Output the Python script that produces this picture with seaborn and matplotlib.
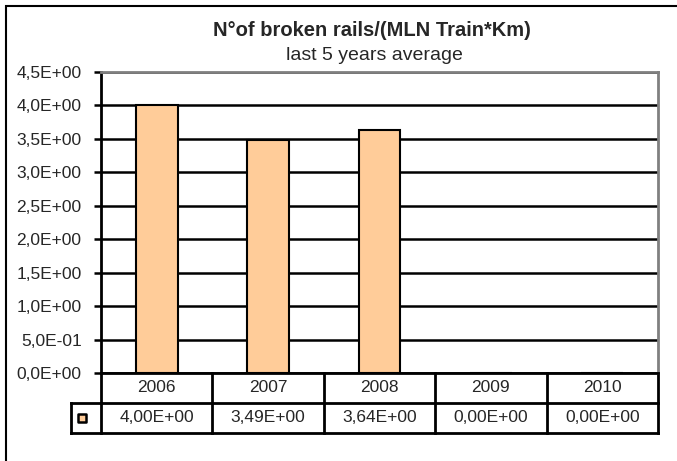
import numpy as np
import pandas as pd
import matplotlib
matplotlib.use("Agg")
import matplotlib.pyplot as plt
from matplotlib.patches import Rectangle
import seaborn as sns

YEARS = ["2006", "2007", "2008", "2009", "2010"]
VALUES = [4.00, 3.49, 3.64, 0.00, 0.00]
Y_TICKS = [0.0, 0.5, 1.0, 1.5, 2.0, 2.5, 3.0, 3.5, 4.0, 4.5]
TITLE = "N°of broken rails/(MLN Train*Km)"
SUBTITLE = "last 5 years average"

BAR_COLOR = "#FFCC99"
GRID_GRAY = "#808080"


def sci_comma(v, digits):
    return f"{v:.{digits}E}".replace(".", ",")


sns.set_style("white")
plt.rcParams["font.family"] = ["Liberation Sans", "DejaVu Sans"]

W, H = 677, 461
fig = plt.figure(figsize=(W / 100, H / 100), dpi=100)
ax = fig.add_axes([101 / W, 1 - 373 / H, (658 - 101) / W, (373 - 72) / H])

df = pd.DataFrame({"Year": YEARS, "Value": VALUES})
sns.barplot(data=df, x="Year", y="Value", color=BAR_COLOR, width=0.375,
            edgecolor="black", linewidth=1.5, saturation=1, ax=ax, zorder=3)

ax.set_ylim(0, 4.5)
ax.set_xlim(-0.5, len(YEARS) - 0.5)
ax.set_yticks(Y_TICKS)
ax.set_yticklabels([sci_comma(t, 1) for t in Y_TICKS], fontsize=12.5)
ax.set_xticks([])
ax.set_xlabel("")
ax.set_ylabel("")
ax.tick_params(axis="y", direction="out", length=5, width=1.8, color="black", pad=9, left=True)
ax.yaxis.grid(True, color="black", linewidth=1.8, zorder=0)
ax.set_axisbelow(True)

for side in ["top", "right"]:
    ax.spines[side].set_color(GRID_GRAY)
    ax.spines[side].set_linewidth(2)
for side in ["left", "bottom"]:
    ax.spines[side].set_color("black")
    ax.spines[side].set_linewidth(2)

# data table under the plot
row_h = 30 / (373 - 72)
key_w = 30 / (658 - 101) * len(YEARS)
tr = ax.get_xaxis_transform()
lk = dict(color="black", linewidth=2, transform=tr, clip_on=False, solid_capstyle="projecting")
n = len(YEARS)
ax.plot([-0.5, n - 0.5], [-row_h, -row_h], **lk)
ax.plot([-0.5 - key_w, n - 0.5], [-2 * row_h, -2 * row_h], **lk)
ax.plot([-0.5 - key_w, -0.5], [-row_h, -row_h], **lk)
ax.plot([-0.5 - key_w, -0.5 - key_w], [-row_h, -2 * row_h], **lk)
for i in range(n + 1):
    ax.plot([i - 0.5, i - 0.5], [0, -2 * row_h], **lk)
for i, (yr, v) in enumerate(zip(YEARS, VALUES)):
    ax.text(i, -0.5 * row_h, yr, transform=tr, ha="center", va="center", fontsize=12.5)
    ax.text(i, -1.5 * row_h, sci_comma(v, 2), transform=tr, ha="center", va="center", fontsize=12.5)

# legend key inside the first table cell
kx = -0.5 - key_w * 0.62
ax.scatter([kx], [-1.5 * row_h], marker="s", s=38, color=BAR_COLOR, edgecolor="black",
           linewidth=1.8, transform=tr, clip_on=False, zorder=5)

# chart titles
fig.text(372 / W, 1 - 30 / H, TITLE, ha="center", va="center", fontsize=14.5, fontweight="bold")
fig.text(374 / W, 1 - 56 / H, SUBTITLE, ha="center", va="center", fontsize=14)

# outer chart border (cropped at right and bottom)
fig.add_artist(Rectangle((6 / W, -0.1), 1.2, 1 - 6 / H + 0.1, transform=fig.transFigure,
                         fill=False, edgecolor="black", linewidth=1.5))

fig.savefig("out.png", dpi=100)
